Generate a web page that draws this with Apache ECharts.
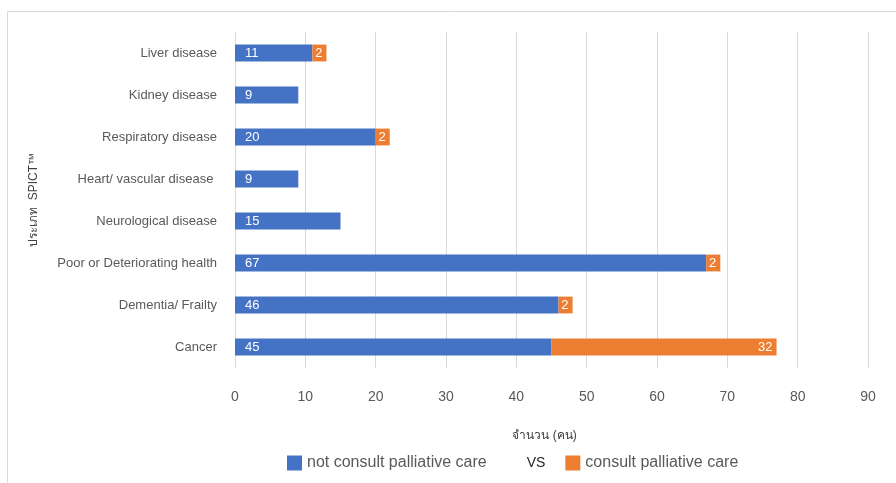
<!DOCTYPE html>
<html>
<head>
<meta charset="utf-8">
<script src="https://cdn.jsdelivr.net/npm/echarts@6/dist/echarts.min.js"></script>
<style>
  html, body { margin: 0; padding: 0; background: #fff; }
  #chart { width: 896px; height: 483px; }
</style>
</head>
<body>
<div id="chart"></div>
<script>
// Categories listed top to bottom
const categories = [
  'Liver disease',
  'Kidney disease',
  'Respiratory disease',
  'Heart/ vascular disease ',
  'Neurological disease',
  'Poor or Deteriorating health',
  'Dementia/ Frailty',
  'Cancer'
];
const notConsult = [11, 9, 20, 9, 15, 67, 46, 45];
const consult = [2, null, 2, null, null, 2, 2, 32];
const xTicks = { min: 0, max: 90, interval: 10 };

const FONT = 'Liberation Sans, Noto Sans, sans-serif';

const chart = echarts.init(document.getElementById('chart'));
chart.setOption({
  animation: false,
  textStyle: { fontFamily: FONT },
  graphic: [{
    type: 'rect',
    shape: { x: 7.5, y: 11.5, width: 1000, height: 1000 },
    style: { fill: 'none', stroke: '#d9d9d9', lineWidth: 1 },
    silent: true
  }],
  grid: { left: 235, right: 28, top: 32, bottom: 115 },
  legend: {
    top: 455,
    left: 287,
    padding: 0,
    itemWidth: 15,
    itemHeight: 15,
    itemGap: 20,
    textStyle: { fontSize: 16, color: '#595959', fontFamily: FONT },
    data: [
      { name: 'not consult palliative care', icon: 'rect' },
      { name: 'VS', icon: 'none', textStyle: { color: '#262626', fontSize: 14 } },
      { name: 'consult palliative care', icon: 'rect' }
    ],
    selectedMode: false
  },
  xAxis: {
    type: 'value',
    min: xTicks.min,
    max: xTicks.max,
    interval: xTicks.interval,
    name: 'จำนวน (คน)',
    nameLocation: 'middle',
    nameGap: 62,
    nameTextStyle: { fontSize: 12, color: '#404040', padding: [0, 14, 0, 0] },
    axisLine: { show: false },
    axisTick: { show: false },
    axisLabel: { fontSize: 14, color: '#595959', margin: 22 },
    splitLine: { lineStyle: { color: '#d9d9d9', width: 1 } }
  },
  yAxis: {
    type: 'category',
    inverse: true,
    data: categories,
    name: 'ประเภท  SPICT™',
    nameLocation: 'middle',
    nameGap: 195,
    nameRotate: 90,
    nameTextStyle: { fontSize: 12, color: '#404040' },
    axisLine: { show: false },
    axisTick: { show: false },
    axisLabel: { fontSize: 13, color: '#595959', margin: 18 },
    splitLine: { show: false }
  },
  series: [
    {
      name: 'not consult palliative care',
      type: 'bar',
      stack: 'total',
      barCategoryGap: '60%',
      itemStyle: { color: '#4472C4' },
      label: {
        show: true,
        position: 'insideLeft',
        distance: 10,
        color: '#fff',
        fontSize: 13
      },
      data: notConsult
    },
    {
      name: 'VS',
      type: 'bar',
      stack: 'total',
      itemStyle: { color: 'transparent' },
      data: []
    },
    {
      name: 'consult palliative care',
      type: 'bar',
      stack: 'total',
      barCategoryGap: '60%',
      itemStyle: { color: '#ED7D31' },
      label: {
        show: true,
        position: 'insideRight',
        distance: 4,
        color: '#fff',
        fontSize: 13
      },
      data: consult
    }
  ]
});
</script>
</body>
</html>
